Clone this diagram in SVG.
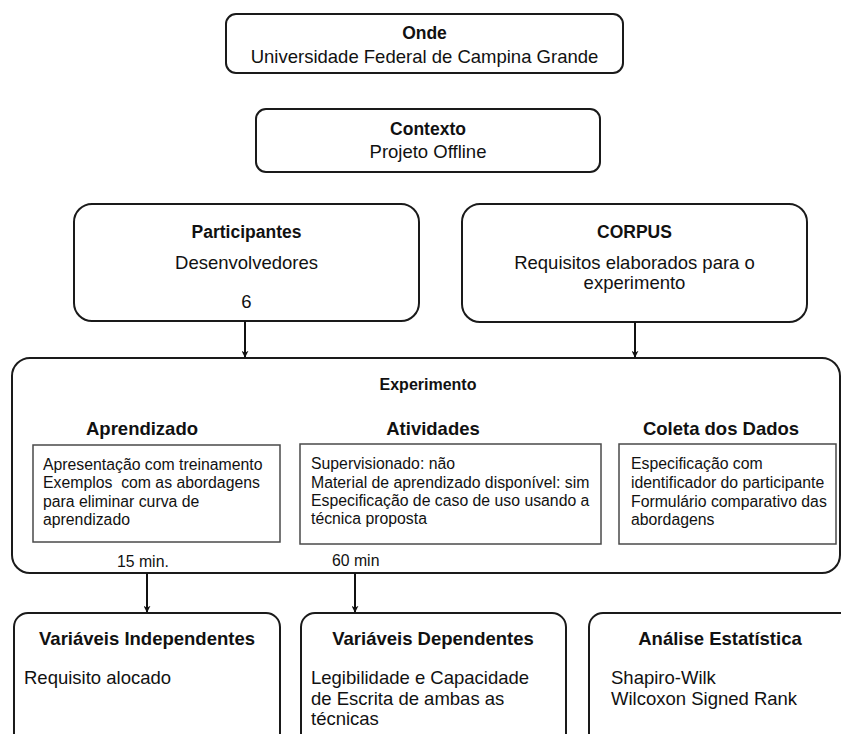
<svg xmlns="http://www.w3.org/2000/svg" width="841" height="734" viewBox="0 0 841 734">
  <style>
    .box { fill: #ffffff; stroke: #1a1a1a; stroke-width: 2; }
    .inner { fill: #ffffff; stroke: #4a4a4a; stroke-width: 1.5; }
    text { font-family: "Liberation Sans", Arial, sans-serif; fill: #111111; }
    .t { font-size: 18.5px; }
    .h { font-size: 18.5px; font-weight: bold; }
    .hs { font-size: 17.5px; font-weight: bold; }
    .hx { font-size: 16px; font-weight: bold; }
    .s { font-size: 15.8px; }
    .c { text-anchor: middle; }
    .edge { fill: none; stroke: #111111; stroke-width: 2; }
  </style>
  <defs>
    <marker id="arrow" viewBox="0 0 10 10" refX="9" refY="5" markerWidth="7" markerHeight="7" markerUnits="userSpaceOnUse" orient="auto">
      <path d="M0,0 L10,5 L0,10 L3,5 z" fill="#111111"/>
    </marker>
  </defs>
  <rect width="841" height="734" fill="#ffffff"/>

  <g id="onde">
    <rect class="box" x="226" y="14" width="397" height="59" rx="10"/>
    <text class="hs c" x="424.5" y="39">Onde</text>
    <text class="t c" x="424.5" y="63">Universidade Federal de Campina Grande</text>
  </g>

  <g id="contexto">
    <rect class="box" x="256" y="109" width="344" height="63" rx="10"/>
    <text class="hs c" x="428" y="135">Contexto</text>
    <text class="t c" x="428" y="158">Projeto Offline</text>
  </g>

  <g id="participantes">
    <rect class="box" x="74" y="204" width="345" height="117" rx="18"/>
    <text class="hs c" x="246.5" y="238">Participantes</text>
    <text class="t c" x="246.5" y="269">Desenvolvedores</text>
    <text class="t c" x="246.5" y="308">6</text>
  </g>

  <g id="corpus">
    <rect class="box" x="462" y="204" width="345" height="118" rx="18"/>
    <text class="hs c" x="634.5" y="238">CORPUS</text>
    <text class="t c" x="634.5" y="269">Requisitos elaborados para o</text>
    <text class="t c" x="634.5" y="289">experimento</text>
  </g>

  <g id="experimento">
    <rect class="box" x="12" y="358" width="828" height="215" rx="18"/>
    <text class="hx c" x="428" y="390">Experimento</text>

    <g id="aprendizado">
      <text class="h c" x="142" y="435">Aprendizado</text>
      <rect class="inner" x="33" y="445" width="247" height="97"/>
      <text class="s" x="43" y="470">Apresentação com treinamento</text>
      <text class="s" x="43" y="488" xml:space="preserve">Exemplos  com as abordagens</text>
      <text class="s" x="43" y="507">para eliminar curva de</text>
      <text class="s" x="43" y="525">aprendizado</text>
      <text class="s" x="117" y="567">15 min.</text>
    </g>

    <g id="atividades">
      <text class="h c" x="433" y="435">Atividades</text>
      <rect class="inner" x="300" y="444" width="301" height="100"/>
      <text class="s" x="311" y="469">Supervisionado: não</text>
      <text class="s" x="311" y="488">Material de aprendizado disponível: sim</text>
      <text class="s" x="311" y="506">Especificação de caso de uso usando a</text>
      <text class="s" x="311" y="524">técnica proposta</text>
      <text class="s" x="332" y="566">60 min</text>
    </g>

    <g id="coleta">
      <text class="h c" x="721" y="435">Coleta dos Dados</text>
      <rect class="inner" x="619" y="444" width="217" height="100"/>
      <text class="s" x="631" y="469">Especificação com</text>
      <text class="s" x="631" y="488">identificador do participante</text>
      <text class="s" x="631" y="507">Formulário comparativo das</text>
      <text class="s" x="631" y="525">abordagens</text>
    </g>
  </g>

  <g id="variaveis-independentes">
    <rect class="box" x="14" y="613" width="266" height="150" rx="14"/>
    <text class="h c" x="147" y="645">Variáveis Independentes</text>
    <text class="t" x="24" y="684">Requisito alocado</text>
  </g>

  <g id="variaveis-dependentes">
    <rect class="box" x="301" y="613" width="265" height="150" rx="14"/>
    <text class="h c" x="433" y="645">Variáveis Dependentes</text>
    <text class="t" x="311" y="684">Legibilidade e Capacidade</text>
    <text class="t" x="311" y="705">de Escrita de ambas as</text>
    <text class="t" x="311" y="725">técnicas</text>
  </g>

  <g id="analise-estatistica">
    <rect class="box" x="589" y="613" width="290" height="150" rx="14"/>
    <text class="h c" x="720" y="645">Análise Estatística</text>
    <text class="t" x="611" y="684">Shapiro-Wilk</text>
    <text class="t" x="611" y="705">Wilcoxon Signed Rank</text>
  </g>

  <g id="connectors">
    <line class="edge" x1="245" y1="321" x2="245" y2="357" marker-end="url(#arrow)"/>
    <line class="edge" x1="635" y1="322" x2="635" y2="357" marker-end="url(#arrow)"/>
    <line class="edge" x1="147" y1="573" x2="147" y2="612" marker-end="url(#arrow)"/>
    <line class="edge" x1="355" y1="573" x2="355" y2="612" marker-end="url(#arrow)"/>
  </g>
</svg>
